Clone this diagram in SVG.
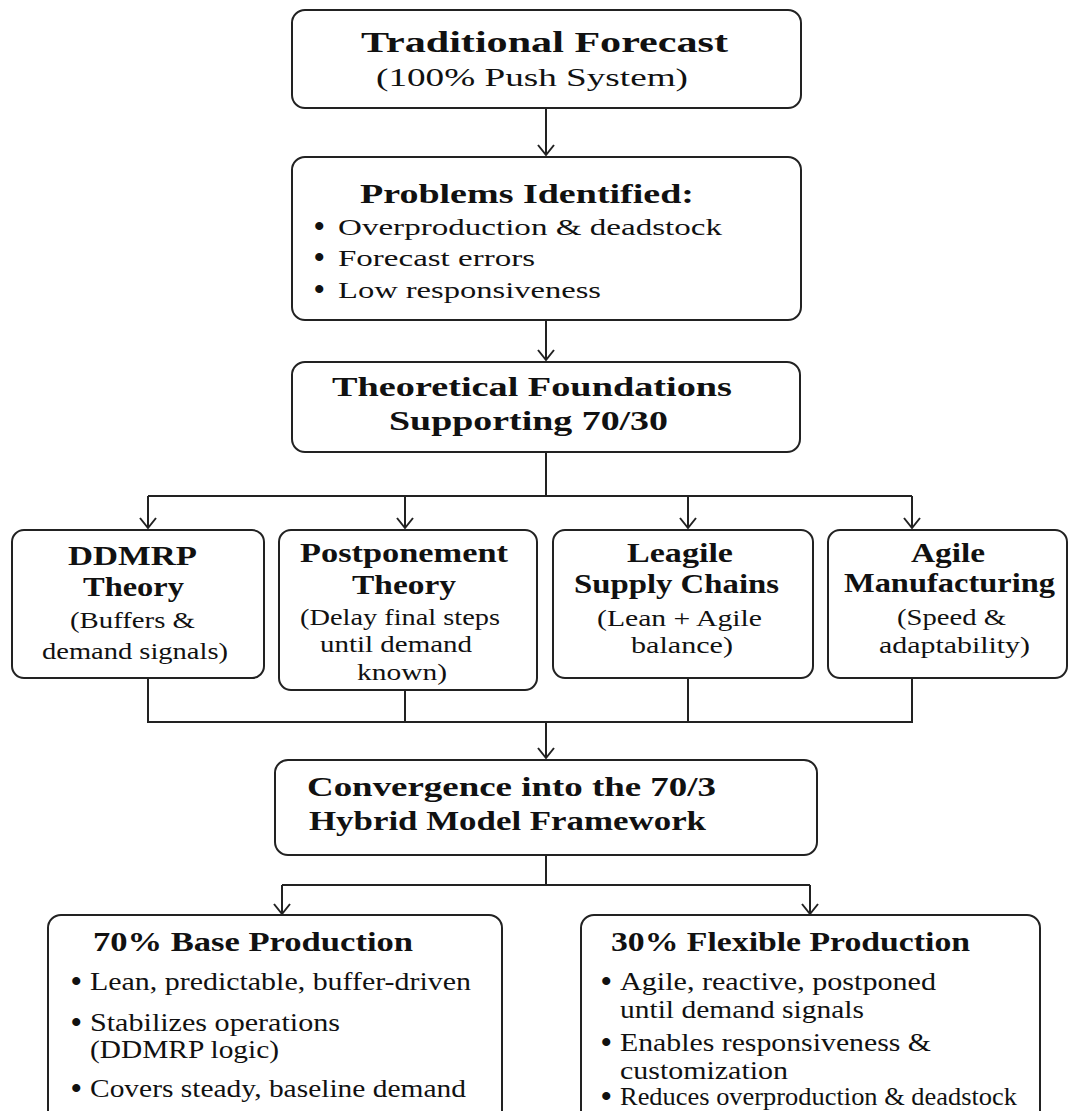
<svg xmlns="http://www.w3.org/2000/svg" width="1069" height="1111" viewBox="0 0 1069 1111">
<style>
.box{fill:#fff;stroke:#222;stroke-width:2}
.t{font-family:"Liberation Serif","Times New Roman",serif;fill:#111}
.b{font-weight:bold}
.bu{font-family:"Liberation Serif","Times New Roman",serif;fill:#111;font-weight:bold;font-size:30px}
.ln{fill:none;stroke:#222;stroke-width:2}
</style>
<defs>
<marker id="ah" viewBox="0 0 20 20" refX="18" refY="10" markerWidth="20" markerHeight="20" markerUnits="userSpaceOnUse" orient="auto">
<polyline points="8,2 18,10 8,18" fill="none" stroke="#222" stroke-width="2"/>
</marker>
</defs>
<rect width="1069" height="1111" fill="#fff"/>
<g id="connectors">
<line class="ln" x1="546" y1="108" x2="546" y2="155" marker-end="url(#ah)"/>
<line class="ln" x1="546" y1="320" x2="546" y2="360" marker-end="url(#ah)"/>
<polyline class="ln" points="546,452 546,496"/>
<polyline class="ln" points="148,496 912,496"/>
<line class="ln" x1="148" y1="496" x2="148" y2="528" marker-end="url(#ah)"/>
<line class="ln" x1="405" y1="496" x2="405" y2="528" marker-end="url(#ah)"/>
<line class="ln" x1="688" y1="496" x2="688" y2="528" marker-end="url(#ah)"/>
<line class="ln" x1="912" y1="496" x2="912" y2="528" marker-end="url(#ah)"/>
<polyline class="ln" points="148,678 148,722 912,722 912,678"/>
<line class="ln" x1="405" y1="690" x2="405" y2="722"/>
<line class="ln" x1="688" y1="678" x2="688" y2="722"/>
<line class="ln" x1="546" y1="722" x2="546" y2="758" marker-end="url(#ah)"/>
<polyline class="ln" points="546,855 546,885"/>
<polyline class="ln" points="282,885 810,885"/>
<line class="ln" x1="282" y1="885" x2="282" y2="914" marker-end="url(#ah)"/>
<line class="ln" x1="810" y1="885" x2="810" y2="914" marker-end="url(#ah)"/>
</g>
<g id="n1">
<rect class="box" x="292" y="10" width="509" height="98" rx="13"/>
<text class="t b" x="361" y="52" font-size="29" textLength="367" lengthAdjust="spacingAndGlyphs">Traditional Forecast</text>
<text class="t" x="376" y="86" font-size="26" textLength="312" lengthAdjust="spacingAndGlyphs">(100% Push System)</text>
</g>
<g id="n2">
<rect class="box" x="292" y="157" width="509" height="163" rx="13"/>
<text class="t b" x="360" y="203" font-size="28" textLength="334" lengthAdjust="spacingAndGlyphs">Problems Identified:</text>
<text class="bu" x="314" y="236">•</text>
<text class="t" x="338" y="235" font-size="24" textLength="384" lengthAdjust="spacingAndGlyphs">Overproduction &amp; deadstock</text>
<text class="bu" x="314" y="267">•</text>
<text class="t" x="338" y="266" font-size="24" textLength="197" lengthAdjust="spacingAndGlyphs">Forecast errors</text>
<text class="bu" x="314" y="299">•</text>
<text class="t" x="338" y="298" font-size="24" textLength="263" lengthAdjust="spacingAndGlyphs">Low responsiveness</text>
</g>
<g id="n3">
<rect class="box" x="292" y="362" width="508" height="90" rx="13"/>
<text class="t b" x="332" y="396" font-size="28" textLength="400" lengthAdjust="spacingAndGlyphs">Theoretical Foundations</text>
<text class="t b" x="389" y="430" font-size="28" textLength="279" lengthAdjust="spacingAndGlyphs">Supporting 70/30</text>
</g>
<g id="n4">
<rect class="box" x="12" y="530" width="252" height="148" rx="12"/>
<text class="t b" x="68" y="565" font-size="28" textLength="129" lengthAdjust="spacingAndGlyphs">DDMRP</text>
<text class="t b" x="83" y="596" font-size="28" textLength="101" lengthAdjust="spacingAndGlyphs">Theory</text>
<text class="t" x="70" y="628" font-size="24" textLength="125" lengthAdjust="spacingAndGlyphs">(Buffers &amp;</text>
<text class="t" x="42" y="659" font-size="24" textLength="186" lengthAdjust="spacingAndGlyphs">demand signals)</text>
</g>
<g id="n5">
<rect class="box" x="279" y="530" width="258" height="160" rx="12"/>
<text class="t b" x="300" y="562" font-size="28" textLength="208" lengthAdjust="spacingAndGlyphs">Postponement</text>
<text class="t b" x="352" y="594" font-size="28" textLength="104" lengthAdjust="spacingAndGlyphs">Theory</text>
<text class="t" x="300" y="625" font-size="24" textLength="200" lengthAdjust="spacingAndGlyphs">(Delay final steps</text>
<text class="t" x="320" y="652" font-size="24" textLength="152" lengthAdjust="spacingAndGlyphs">until demand</text>
<text class="t" x="357" y="680" font-size="24" textLength="90" lengthAdjust="spacingAndGlyphs">known)</text>
</g>
<g id="n6">
<rect class="box" x="553" y="530" width="260" height="148" rx="12"/>
<text class="t b" x="627" y="562" font-size="28" textLength="106" lengthAdjust="spacingAndGlyphs">Leagile</text>
<text class="t b" x="574" y="593" font-size="28" textLength="205" lengthAdjust="spacingAndGlyphs">Supply Chains</text>
<text class="t" x="597" y="626" font-size="24" textLength="165" lengthAdjust="spacingAndGlyphs">(Lean + Agile</text>
<text class="t" x="631" y="653" font-size="24" textLength="102" lengthAdjust="spacingAndGlyphs">balance)</text>
</g>
<g id="n7">
<rect class="box" x="828" y="530" width="239" height="148" rx="12"/>
<text class="t b" x="911" y="562" font-size="28" textLength="74" lengthAdjust="spacingAndGlyphs">Agile</text>
<text class="t b" x="844" y="592" font-size="28" textLength="211" lengthAdjust="spacingAndGlyphs">Manufacturing</text>
<text class="t" x="897" y="625" font-size="24" textLength="109" lengthAdjust="spacingAndGlyphs">(Speed &amp;</text>
<text class="t" x="879" y="653" font-size="24" textLength="151" lengthAdjust="spacingAndGlyphs">adaptability)</text>
</g>
<g id="n8">
<rect class="box" x="275" y="760" width="542" height="95" rx="13"/>
<text class="t b" x="307" y="796" font-size="28" textLength="409" lengthAdjust="spacingAndGlyphs">Convergence into the 70/3</text>
<text class="t b" x="309" y="830" font-size="28" textLength="397" lengthAdjust="spacingAndGlyphs">Hybrid Model Framework</text>
</g>
<g id="n9">
<rect class="box" x="48" y="915" width="454" height="210" rx="13"/>
<text class="t b" x="93" y="951" font-size="28" textLength="320" lengthAdjust="spacingAndGlyphs">70% Base Production</text>
<text class="bu" x="71" y="991">•</text>
<text class="t" x="90" y="990" font-size="25" textLength="381" lengthAdjust="spacingAndGlyphs">Lean, predictable, buffer-driven</text>
<text class="bu" x="71" y="1032">•</text>
<text class="t" x="90" y="1031" font-size="25" textLength="250" lengthAdjust="spacingAndGlyphs">Stabilizes operations</text>
<text class="t" x="90" y="1058" font-size="25" textLength="189" lengthAdjust="spacingAndGlyphs">(DDMRP logic)</text>
<text class="bu" x="71" y="1098">•</text>
<text class="t" x="90" y="1097" font-size="25" textLength="376" lengthAdjust="spacingAndGlyphs">Covers steady, baseline demand</text>
</g>
<g id="n10">
<rect class="box" x="581" y="915" width="459" height="210" rx="13"/>
<text class="t b" x="611" y="951" font-size="28" textLength="359" lengthAdjust="spacingAndGlyphs">30% Flexible Production</text>
<text class="bu" x="601" y="991">•</text>
<text class="t" x="620" y="990" font-size="25" textLength="316" lengthAdjust="spacingAndGlyphs">Agile, reactive, postponed</text>
<text class="t" x="620" y="1018" font-size="25" textLength="244" lengthAdjust="spacingAndGlyphs">until demand signals</text>
<text class="bu" x="601" y="1052">•</text>
<text class="t" x="620" y="1051" font-size="25" textLength="311" lengthAdjust="spacingAndGlyphs">Enables responsiveness &amp;</text>
<text class="t" x="620" y="1079" font-size="25" textLength="168" lengthAdjust="spacingAndGlyphs">customization</text>
<text class="bu" x="601" y="1106">•</text>
<text class="t" x="620" y="1105" font-size="25" textLength="397" lengthAdjust="spacingAndGlyphs">Reduces overproduction &amp; deadstock</text>
</g>
</svg>
